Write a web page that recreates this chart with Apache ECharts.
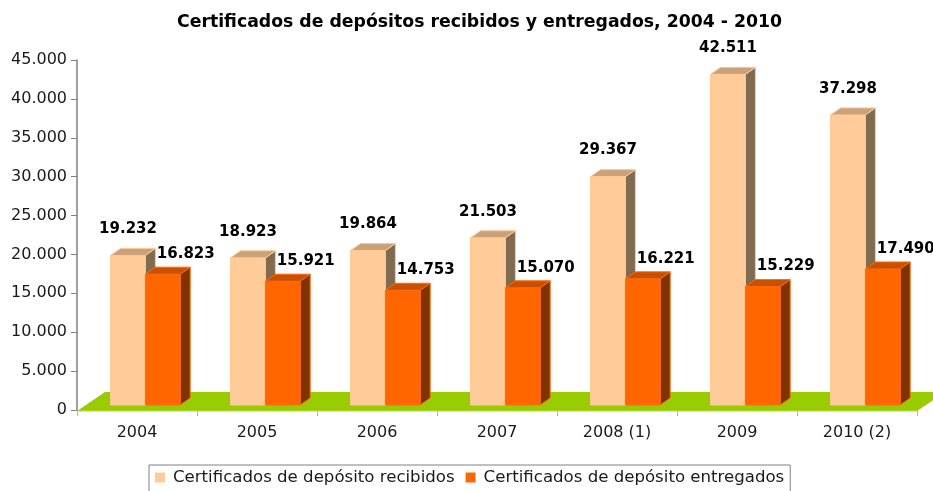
<!DOCTYPE html>
<html><head><meta charset="utf-8">
<script src="https://cdn.jsdelivr.net/npm/echarts@6/dist/echarts.min.js"></script>
<style>html,body{margin:0;padding:0;background:#fff}#c{width:933px;height:491px}</style>
</head><body><div id="c"></div>
<script>
const titleText = 'Certificados de depósitos recibidos y entregados, 2004 - 2010';
const categories = ['2004', '2005', '2006', '2007', '2008 (1)', '2009', '2010 (2)'];
const recibidos = [19232, 18923, 19864, 21503, 29367, 42511, 37298];
const entregados = [16823, 15921, 14753, 15070, 16221, 15229, 17490];
const seriesNames = ['Certificados de depósito recibidos', 'Certificados de depósito entregados'];

const fmt = v => String(Math.round(v)).replace(/\B(?=(\d{3})+(?!\d))/g, '.');

const palettes = [
  { front: '#FFCC99', top: '#C9A27C', side: '#806A50', edge: '#FFC890' },
  { front: '#FF6600', top: '#C85000', side: '#7F3300', edge: '#FF6A0A' }
];

function barRenderer(si) {
  return function (params, api) {
    const idx = api.value(0), val = api.value(1);
    const top = api.coord([idx, val]);
    const base = api.coord([idx, 0]);
    const band = api.size([1, 0])[0];
    const w = band * 0.29, shift = band * 0.07;
    const lift = 5, dx = 10, dy = -7;
    const x0 = si === 0 ? top[0] + shift - w : top[0] + shift;
    const x1 = x0 + w;
    const yt = top[1] - lift, yb = base[1] - lift;
    const p = palettes[si];
    return {
      type: 'group', children: [
        { type: 'polygon', shape: { points: [[x1, yt], [x1 + dx, yt + dy], [x1 + dx, yb + dy], [x1, yb]] }, style: { fill: p.side, stroke: p.edge, lineWidth: 1 } },
        { type: 'rect', shape: { x: x0, y: yt, width: w, height: yb - yt }, style: { fill: p.front, stroke: p.edge, lineWidth: 1 } },
        { type: 'polygon', shape: { points: [[x0, yt], [x0 + dx, yt + dy], [x1 + dx, yt + dy], [x1, yt]] }, style: { fill: p.top, stroke: p.edge, lineWidth: 1 } },
        { type: 'text', z2: 10, style: { text: fmt(val), x: (x0 + x1) / 2 + (si ? 23 : 0), y: yt - (si ? 20 : 26), align: 'center', verticalAlign: 'middle', font: 'bold 15px "DejaVu Sans"', fill: '#000' } }
      ]
    };
  };
}

function floorRenderer(params, api) {
  const cs = params.coordSys;
  const b = api.coord([0, 0])[1] + 1;
  const fx = 28, fy = -19;
  return {
    type: 'group', children: [
      { type: 'polygon', shape: { points: [[cs.x, b], [cs.x + cs.width, b], [cs.x + cs.width + fx, b + fy], [cs.x + fx, b + fy]] }, style: { fill: '#99CC00' } },
      { type: 'line', shape: { x1: cs.x, y1: b, x2: cs.x + cs.width, y2: b }, style: { stroke: '#B8E04A', lineWidth: 1 } }
    ]
  };
}

const chart = echarts.init(document.getElementById('c'), null, { renderer: 'canvas' });
chart.setOption({
  backgroundColor: '#fff',
  animation: false,
  title: { text: titleText, left: 172, top: 9, textStyle: { fontFamily: 'DejaVu Sans', fontWeight: 'bold', fontSize: 17.3, color: '#000' } },
  legend: {
    left: 149, top: 465, itemWidth: 10, itemHeight: 10, itemGap: 11, icon: 'rect',
    borderColor: '#808080', borderWidth: 1, padding: [4, 6, 30, 6],
    textStyle: { fontFamily: 'DejaVu Sans', fontSize: 16.6, color: '#1a1a1a', padding: [0, 0, 0, 3] },
    data: seriesNames
  },
  grid: { left: 77, right: 16, top: 60, bottom: 81, containLabel: false },
  xAxis: {
    type: 'category', data: categories,
    axisLine: { show: true, lineStyle: { color: '#B5DC4A' } },
    axisTick: { show: true, length: 6, lineStyle: { color: '#A8D040' } },
    axisLabel: { color: '#1a1a1a', fontSize: 16, fontFamily: 'DejaVu Sans', margin: 15 }
  },
  yAxis: {
    type: 'value', min: 0, max: 45000, interval: 5000,
    axisLine: { show: true, lineStyle: { color: '#808080', width: 1.5 } },
    axisTick: { show: true, length: 6, lineStyle: { color: '#808080' } },
    splitLine: { show: false },
    axisLabel: { formatter: v => fmt(v), color: '#1a1a1a', fontSize: 16, fontFamily: 'DejaVu Sans', margin: 10 }
  },
  series: [
    { type: 'custom', name: '_floor', silent: true, z: 1, renderItem: floorRenderer, data: [[0, 0]], encode: { x: 0, y: 1 } },
    { type: 'custom', name: seriesNames[0], z: 2, itemStyle: { color: palettes[0].front }, renderItem: barRenderer(0), data: recibidos.map((v, i) => [i, v]), encode: { x: 0, y: 1 } },
    { type: 'custom', name: seriesNames[1], z: 3, itemStyle: { color: palettes[1].front }, renderItem: barRenderer(1), data: entregados.map((v, i) => [i, v]), encode: { x: 0, y: 1 } }
  ]
});
</script>
</body></html>
